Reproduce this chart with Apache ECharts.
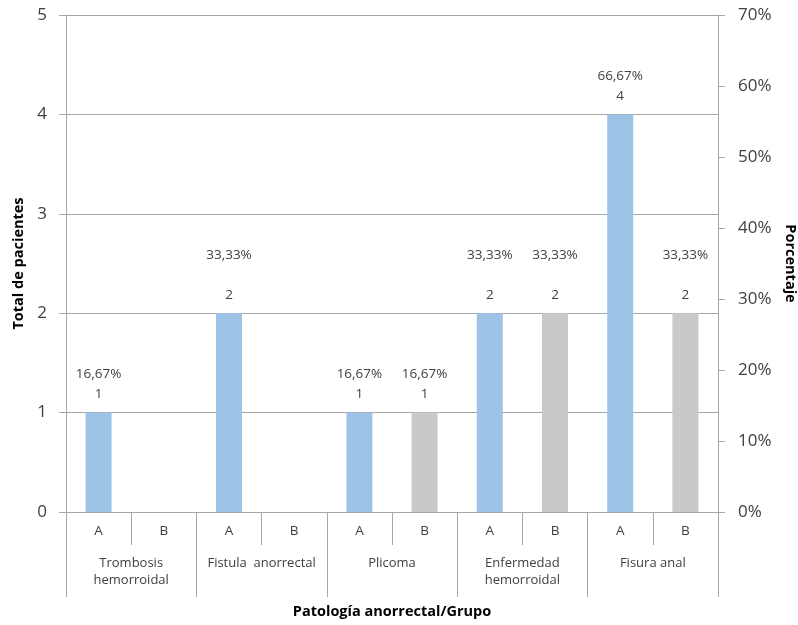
<!DOCTYPE html>
<html>
<head>
<meta charset="utf-8">
<script src="https://cdn.jsdelivr.net/npm/echarts@6/dist/echarts.min.js"></script>
<style>
  html, body { margin: 0; padding: 0; background: #fff; }
  #chart { width: 798px; height: 625px; }
</style>
</head>
<body>
<div id="chart"></div>
<script>
// Pathology groups and patient groups
const groups = ['Trombosis\nhemorroidal', 'Fistula  anorrectal', 'Plicoma', 'Enfermedad\nhemorroidal', 'Fisura anal'];
const subgroups = ['A', 'B'];

// Patient counts per pathology
const countA = [1, 2, 1, 2, 4];
const countB = [0, 0, 1, 2, 2];

// Percentages shown above each bar
const pctA = [16.67, 33.33, 16.67, 33.33, 66.67];
const pctB = [null, null, 16.67, 33.33, 33.33];

// Axis ticks
const leftTicks = [0, 1, 2, 3, 4, 5];
const rightTicks = [0, 10, 20, 30, 40, 50, 60, 70];

const font = 'Open Sans, Noto Sans, sans-serif';
const textColor = '#404040';
const lineColor = '#A6A6A6';

const categories = [];
groups.forEach(() => subgroups.forEach(s => categories.push(s)));

function fmtPct(v) {
  return v.toFixed(2).replace('.', ',') + '%';
}

// Extra blank line between the percentage and the count for the mid-height bars
function gapFor(v) { return v === 2 ? '\n\n' : '\n'; }

function buildSeries(counts, pcts, slot, color) {
  const data = categories.map(() => '-');
  counts.forEach((c, g) => {
    const idx = g * 2 + slot;
    if (c > 0) {
      data[idx] = {
        value: c,
        label: {
          show: true,
          formatter: '{p|' + fmtPct(pcts[g]) + '}' + gapFor(c) + '{v|' + c + '}'
        }
      };
    }
  });
  return {
    type: 'bar',
    data: data,
    barWidth: 26,
    barGap: '-100%',
    itemStyle: { color: color },
    label: {
      position: 'top',
      distance: 8,
      color: textColor,
      fontFamily: font,
      fontSize: 13.5,
      lineHeight: 20,
      rich: {
        p: { fontFamily: font, fontSize: 13.5, color: textColor, lineHeight: 20 },
        v: { fontFamily: font, fontSize: 13.5, color: textColor, lineHeight: 20 }
      }
    },
    animation: false
  };
}

const chart = echarts.init(document.getElementById('chart'));
chart.setOption({
  backgroundColor: '#fff',
  animation: false,
  grid: { left: 66, right: 80, top: 15, bottom: 113, outerBoundsMode: 'none', containLabel: false },
  xAxis: [
    {
      type: 'category',
      data: categories,
      position: 'bottom',
      axisLine: { lineStyle: { color: lineColor, width: 1 } },
      axisTick: { show: true, interval: 0, length: 33, lineStyle: { color: lineColor } },
      axisLabel: { interval: 0, margin: 12, color: textColor, fontFamily: font, fontSize: 13.5 }
    },
    {
      type: 'category',
      data: groups,
      position: 'bottom',
      axisLine: { show: false },
      axisTick: { show: true, interval: 0, length: 85, lineStyle: { color: lineColor } },
      axisLabel: { interval: 0, margin: 43, color: textColor, fontFamily: font, fontSize: 13, lineHeight: 17 },
      name: 'Patología anorrectal/Grupo',
      nameLocation: 'middle',
      nameGap: 92,
      nameTextStyle: { fontFamily: font, fontSize: 14.5, fontWeight: 'bold', color: '#000' }
    }
  ],
  yAxis: [
    {
      type: 'value',
      min: leftTicks[0],
      max: leftTicks[leftTicks.length - 1],
      interval: 1,
      position: 'left',
      name: 'Total de pacientes',
      nameLocation: 'middle',
      nameGap: 40,
      nameTextStyle: { fontFamily: font, fontSize: 14.5, fontWeight: 'bold', color: '#000' },
      axisLine: { show: true, lineStyle: { color: lineColor } },
      axisTick: { show: true, length: 7, lineStyle: { color: lineColor } },
      axisLabel: { margin: 19, color: textColor, fontFamily: font, fontSize: 17 },
      splitLine: { show: true, lineStyle: { color: lineColor, width: 1 } }
    },
    {
      type: 'value',
      min: rightTicks[0],
      max: rightTicks[rightTicks.length - 1],
      interval: 10,
      position: 'right',
      name: 'Porcentaje',
      nameLocation: 'middle',
      nameGap: 62,
      nameRotate: -90,
      nameTextStyle: { fontFamily: font, fontSize: 14.5, fontWeight: 'bold', color: '#000' },
      axisLine: { show: true, lineStyle: { color: lineColor } },
      axisTick: { show: true, length: 7, lineStyle: { color: lineColor } },
      axisLabel: { margin: 20, color: textColor, fontFamily: font, fontSize: 17, formatter: '{value}%' },
      splitLine: { show: false }
    }
  ],
  series: [
    buildSeries(countA, pctA, 0, '#9DC3E6'),
    buildSeries(countB, pctB, 1, '#C9C9C9')
  ]
});
</script>
</body>
</html>
